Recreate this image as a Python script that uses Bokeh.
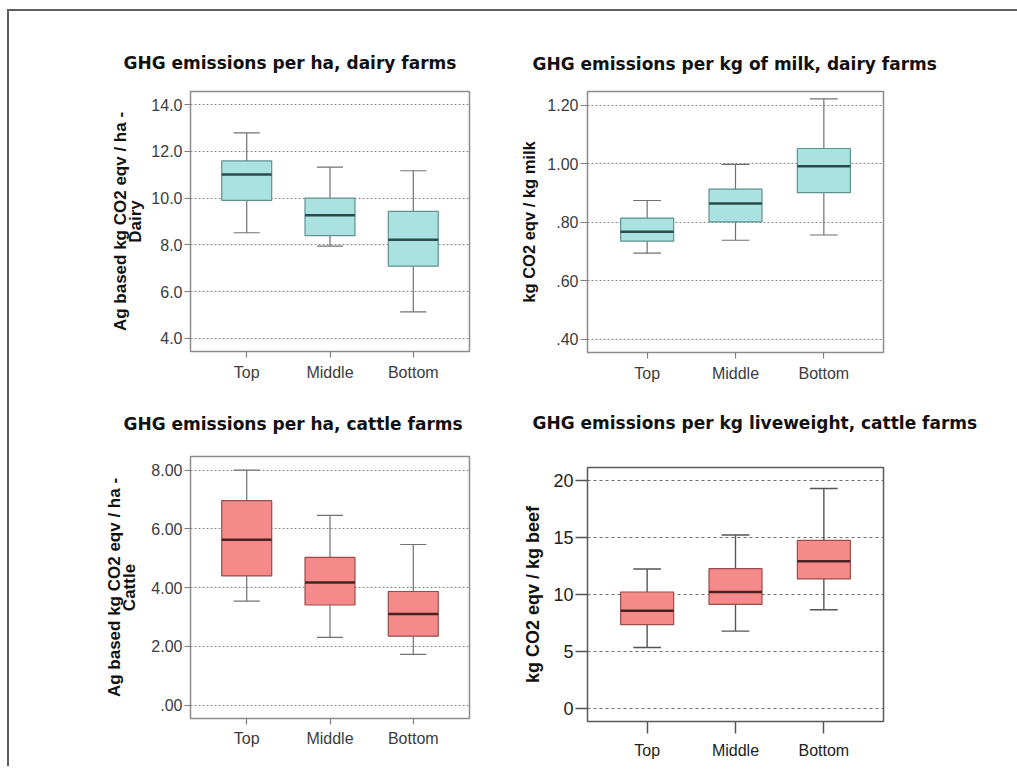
from bokeh.plotting import figure
from bokeh.layouts import column, row
from bokeh.models import FactorRange, Range1d, FixedTicker, CustomJSTickFormatter, ColumnDataSource, Title
from bokeh.transform import dodge
from bokeh.embed import file_html
from bokeh.resources import INLINE

categories = ["Top", "Middle", "Bottom"]

# GHG emissions per ha, dairy farms
dairy_ha_low = [8.52, 7.95, 5.14]
dairy_ha_q1 = [9.90, 8.40, 7.09]
dairy_ha_med = [11.01, 9.27, 8.22]
dairy_ha_q3 = [11.59, 10.00, 9.43]
dairy_ha_high = [12.79, 11.32, 11.17]
dairy_ha_ticks = [4, 6, 8, 10, 12, 14]

# GHG emissions per kg of milk, dairy farms
milk_low = [0.694, 0.738, 0.756]
milk_q1 = [0.735, 0.801, 0.901]
milk_med = [0.767, 0.864, 0.991]
milk_q3 = [0.814, 0.913, 1.052]
milk_high = [0.874, 0.998, 1.222]
milk_ticks = [0.4, 0.6, 0.8, 1.0, 1.2]

# GHG emissions per ha, cattle farms
cattle_ha_low = [3.54, 2.31, 1.73]
cattle_ha_q1 = [4.40, 3.41, 2.35]
cattle_ha_med = [5.63, 4.18, 3.10]
cattle_ha_q3 = [6.96, 5.03, 3.87]
cattle_ha_high = [8.00, 6.46, 5.47]
cattle_ha_ticks = [0, 2, 4, 6, 8]

# GHG emissions per kg liveweight, cattle farms
beef_low = [5.37, 6.80, 8.67]
beef_q1 = [7.36, 9.14, 11.36]
beef_med = [8.58, 10.22, 12.91]
beef_q3 = [10.22, 12.26, 14.74]
beef_high = [12.23, 15.21, 19.27]
beef_ticks = [0, 5, 10, 15, 20]

CYAN = dict(fill="#a9e2e0", line="#5f9190", med="#2d4a4a")
PINK = dict(fill="#f58a8a", line="#9a4c4c", med="#4a2222")

FMT1 = "return tick.toFixed(1);"
FMT2 = "var s = tick.toFixed(2); return s.replace(/^0\\./, '.');"
FMT0 = "return tick.toFixed(0);"


def panel(title, ylabel, low, q1, med, q3, high, ticks, fmt, yr, w, h,
          bl, br, bt, bb, col, t_off, t_gap, lab_stand, tick_size="16px",
          lab_size="17px", xtick_out=6, ytick_out=6, xstand=6, dark=False):
    p = figure(x_range=FactorRange(*categories, range_padding=0.1167),
               y_range=Range1d(*yr), width=w, height=h, title=None,
               min_border_left=bl, min_border_right=br,
               min_border_top=bt, min_border_bottom=bb,
               output_backend="svg", toolbar_location=None, tools="")
    src = ColumnDataSource(dict(cat=categories, low=low, q1=q1, med=med, q3=q3, high=high))
    wcol = "#555555" if dark else "#707070"
    wl = 1.4 if dark else 1.2
    p.segment(x0="cat", y0="q3", x1="cat", y1="high", source=src, line_color=wcol, line_width=wl)
    p.segment(x0="cat", y0="low", x1="cat", y1="q1", source=src, line_color=wcol, line_width=wl)
    p.segment(x0=dodge("cat", -0.157, range=p.x_range), y0="high",
              x1=dodge("cat", 0.157, range=p.x_range), y1="high", source=src,
              line_color=wcol, line_width=wl)
    p.segment(x0=dodge("cat", -0.157, range=p.x_range), y0="low",
              x1=dodge("cat", 0.157, range=p.x_range), y1="low", source=src,
              line_color=wcol, line_width=wl)
    p.vbar(x="cat", width=0.6, bottom="q1", top="q3", source=src,
           fill_color=col["fill"], line_color=col["line"], line_width=1.2)
    p.segment(x0=dodge("cat", -0.3, range=p.x_range), y0="med",
              x1=dodge("cat", 0.3, range=p.x_range), y1="med", source=src,
              line_color=col["med"], line_width=2.5)

    spacer = Title(text=" ", text_font_size="1px", standoff=t_gap, text_color="white")
    p.add_layout(spacer, "above")
    t = Title(text=title, text_font="DejaVu Sans", text_font_style="bold",
              text_font_size="17px", text_color="#111111", align="left",
              offset=t_off, standoff=0)
    p.add_layout(t, "above")

    p.outline_line_color = "#5a5a5a" if dark else "#8c8c8c"
    p.outline_line_width = 1.5

    tick_col = "#222222" if dark else "#3c3c3c"
    for ax in (p.xaxis[0], p.yaxis[0]):
        ax.axis_line_color = None
        ax.major_tick_line_color = "#555555" if dark else "#808080"
        ax.major_tick_line_width = 1.5 if dark else 1.2
        ax.minor_tick_line_color = None
        ax.major_tick_in = 0
        ax.major_label_text_font = "Liberation Sans"
        ax.major_label_text_color = tick_col
        ax.major_label_text_font_size = "16px"
        ax.major_label_standoff = 2
    p.xaxis.major_tick_out = xtick_out
    p.xaxis.major_label_standoff = xstand
    p.yaxis.major_tick_out = ytick_out
    p.yaxis.major_label_text_font_size = tick_size
    p.yaxis.ticker = FixedTicker(ticks=ticks)
    p.yaxis.formatter = CustomJSTickFormatter(code=fmt)
    p.yaxis.axis_label = ylabel
    p.yaxis.axis_label_text_font = "Liberation Sans"
    p.yaxis.axis_label_text_font_style = "bold"
    p.yaxis.axis_label_text_font_size = lab_size
    p.yaxis.axis_label_text_color = "#111111"
    p.yaxis.axis_label_text_line_height = 0.8
    p.yaxis.axis_label_standoff = lab_stand

    p.xgrid.grid_line_color = None
    p.ygrid.ticker = FixedTicker(ticks=ticks)
    p.ygrid.grid_line_color = "#6f6f6f" if dark else "#8a8a8a"
    p.ygrid.grid_line_dash = "3 3" if dark else "2 2"
    p.ygrid.grid_line_width = 1
    p.background_fill_color = "white"
    p.border_fill_color = "white"
    return p


p1 = panel("GHG emissions per ha, dairy farms", "Ag based kg CO2 eqv / ha -\nDairy",
           dairy_ha_low, dairy_ha_q1, dairy_ha_med, dairy_ha_q3, dairy_ha_high,
           dairy_ha_ticks, FMT1, (3.444, 14.556), 499, 381, 181, 39, 80, 41, CYAN,
           -67, 16, 3)
p2 = panel("GHG emissions per kg of milk, dairy farms", "kg CO2 eqv / kg milk",
           milk_low, milk_q1, milk_med, milk_q3, milk_high,
           milk_ticks, FMT2, (0.354, 1.247), 500, 381, 79, 125, 80, 40, CYAN,
           -55, 15, 6, lab_size="16.5px", ytick_out=7)
p3 = panel("GHG emissions per ha, cattle farms", "Ag based kg CO2 eqv / ha -\nCattle",
           cattle_ha_low, cattle_ha_q1, cattle_ha_med, cattle_ha_q3, cattle_ha_high,
           cattle_ha_ticks, FMT2, (-0.453, 8.465), 499, 376, 181, 39, 64, 50, PINK,
           -67, 20, 9, xstand=5)
p4 = panel("GHG emissions per kg liveweight, cattle farms", "kg CO2 eqv / kg beef",
           beef_low, beef_q1, beef_med, beef_q3, beef_high,
           beef_ticks, FMT0, (-1.11, 21.11), 500, 376, 79, 125, 75, 47, PINK,
           -55, 32, 7, tick_size="18px", lab_size="18px", xtick_out=12,
           ytick_out=12, xstand=8, dark=True)

layout = row(column(p1, p3), column(p2, p4), margin=(9, 0, 0, 7),
             width=1010, height=757,
             styles={"border-top": "2px solid #5f5f5f", "border-left": "2px solid #5f5f5f"})

open("out.html", "w").write(file_html(layout, INLINE))
